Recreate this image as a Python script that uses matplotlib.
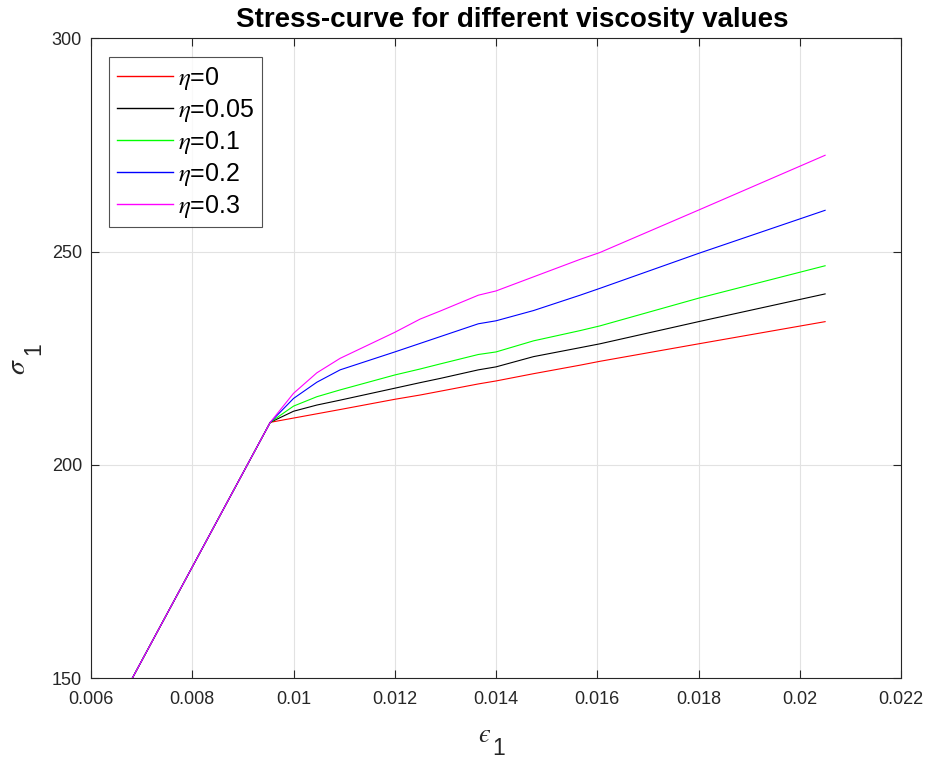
import matplotlib.pyplot as plt

plt.rcParams['font.family'] = ['Liberation Sans', 'DejaVu Sans']
plt.rcParams['mathtext.fontset'] = 'stix'

# Data (strain, stress)
strain = [0, 0.00954, 0.0100, 0.01046, 0.01092, 0.0120, 0.0125, 0.0129, 0.01365,
          0.0140, 0.01474, 0.01566, 0.01605, 0.0180, 0.0205]
stress_eta0 = [0, 210, 211.0, 212.0, 213.0, 215.4, 216.4, 217.3, 219.0,
               219.7, 221.4, 223.4, 224.3, 228.4, 233.6]
stress_eta005 = [0, 210, 212.6, 214.05, 215.2, 218.0, 219.3, 220.3, 222.3,
                 223.0, 225.4, 227.5, 228.4, 233.6, 240.1]
stress_eta01 = [0, 210, 213.8, 216.0, 217.6, 221.1, 222.5, 223.7, 225.9,
                226.5, 229.1, 231.5, 232.6, 239.1, 246.7]
stress_eta02 = [0, 210, 215.6, 219.4, 222.3, 226.5, 228.5, 230.1, 233.1,
                233.8, 236.2, 239.8, 241.4, 249.6, 259.7]
stress_eta03 = [0, 210, 216.8, 221.6, 225.0, 231.1, 234.2, 236.1, 239.8,
                240.8, 244.1, 248.2, 249.8, 259.75, 272.6]

labels = [r'$\eta$=0', r'$\eta$=0.05', r'$\eta$=0.1', r'$\eta$=0.2', r'$\eta$=0.3']
colors = ['#ff0000', '#000000', '#00ff00', '#0000ff', '#ff00ff']
series = [stress_eta0, stress_eta005, stress_eta01, stress_eta02, stress_eta03]

xticks = [0.006, 0.008, 0.01, 0.012, 0.014, 0.016, 0.018, 0.02, 0.022]
xtick_labels = ['0.006', '0.008', '0.01', '0.012', '0.014', '0.016', '0.018', '0.02', '0.022']
yticks = [150, 200, 250, 300]

W, H = 927, 760
fig = plt.figure(figsize=(W / 100, H / 100), dpi=100)
ax = fig.add_axes([0.0982, 0.1075, 0.8738, 0.842])

for s, lab, c in zip(series, labels, colors):
    ax.plot(strain, s, color=c, linewidth=0.8, label=lab)

ax.set_xlim(0.006, 0.022)
ax.set_ylim(150, 300)
ax.set_xticks(xticks)
ax.set_xticklabels(xtick_labels)
ax.set_yticks(yticks)

dark = '#262626'
for sp in ax.spines.values():
    sp.set_color(dark)
    sp.set_linewidth(0.8)
ax.tick_params(direction='in', top=True, right=True, length=6, width=0.8,
               colors=dark, labelsize=13)
ax.tick_params(axis='x', pad=9)
ax.tick_params(axis='y', pad=6.5)
ax.grid(True, color='#e2e2e2', linewidth=0.8)
ax.set_axisbelow(True)

ax.set_title('Stress-curve for different viscosity values', fontsize=20,
             fontweight='bold', pad=8, x=0.52)

# axis labels: symbol plus full-size lowered subscript, as drawn in the original
fig.text(485 / W, 1 - 741.5 / H, '$\u03f5$', fontsize=19, color=dark,
         ha='center', va='baseline')
fig.text(499 / W, 1 - 755 / H, '1', fontsize=16.5, color=dark,
         ha='center', va='baseline')
fig.text(25 / W, 1 - 366.5 / H, r'$\sigma$', fontsize=20, color=dark,
         ha='center', va='baseline', rotation=90, rotation_mode='anchor')
fig.text(40 / W, 1 - 349 / H, '1', fontsize=16.5, color=dark,
         ha='center', va='baseline', rotation=90, rotation_mode='anchor')

leg = ax.legend(loc='upper left', bbox_to_anchor=(0.0226, 0.9705), fontsize=18,
                frameon=True, fancybox=False, edgecolor=dark, handlelength=2.24,
                handletextpad=0.21, labelspacing=0.2, borderpad=0.3,
                borderaxespad=0)
leg.get_frame().set_linewidth(0.8)
for h in leg.get_lines():
    h.set_linewidth(1.0)

plt.savefig('out.png', dpi=100)
